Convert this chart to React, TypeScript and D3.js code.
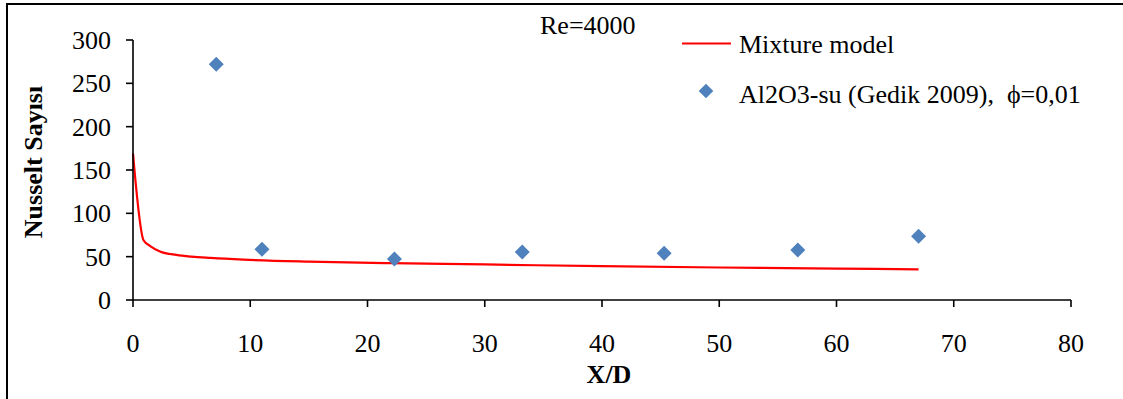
import React from "react";
import * as d3 from "d3";

const xTicks = [0, 10, 20, 30, 40, 50, 60, 70, 80];
const yTicks = [0, 50, 100, 150, 200, 250, 300];

const modelX = [0, 0.9, 1.5, 2.3, 3.7, 5, 6.6, 9.4, 15, 22, 30, 40, 50, 60, 67];
const modelY = [169, 69, 62, 56, 52, 50, 48.5, 46.5, 44.2, 42.5, 41, 39, 37.5, 36.2, 35.4];

const expX = [7.1, 11.0, 22.3, 33.2, 45.3, 56.7, 67.0];
const expY = [272, 58.5, 47.3, 55.4, 54.0, 57.7, 73.5];

const title = "Re=4000";
const legendModel = "Mixture model";
const legendExp = "Al2O3-su (Gedik 2009),  ϕ=0,01";
const xTitle = "X/D";
const yTitle = "Nusselt Sayısı";

const W = 1123;
const H = 399;
const FONT = "Liberation Serif, Times New Roman, serif";

export default function App() {
  const x = d3.scaleLinear().domain([0, 80]).range([133, 1071]);
  const y = d3.scaleLinear().domain([0, 300]).range([300, 40]);

  const line = d3
    .line<number>()
    .x((_, i) => x(modelX[i]))
    .y((d) => y(d))
    .curve(d3.curveMonotoneX);

  const diamond = (cx: number, cy: number, r: number) =>
    `M${cx},${cy - r}L${cx + r},${cy}L${cx},${cy + r}L${cx - r},${cy}Z`;

  const ts = { fontFamily: FONT };

  return (
    <svg
      width={W}
      height={H}
      style={{ position: "absolute", left: 0, top: 0, background: "#fff" }}
    >
      <rect x={7} y={4} width={1200} height={500} fill="#fff" stroke="#000" strokeWidth={2} />

      {/* model line */}
      <path d={line(modelY) || ""} fill="none" stroke="#ff0000" strokeWidth={2.2} />

      {/* experimental points */}
      {expX.map((v, i) => (
        <path key={i} d={diamond(x(v), y(expY[i]), 7.5)} fill="#4f81bd" />
      ))}

      {/* axes */}
      <line x1={x(0)} x2={x(80)} y1={y(0)} y2={y(0)} stroke="#000" strokeWidth={1.6} />
      <line x1={x(0)} x2={x(0)} y1={y(0)} y2={y(300)} stroke="#000" strokeWidth={1.6} />
      {xTicks.map((t) => (
        <g key={"x" + t}>
          <line x1={x(t)} x2={x(t)} y1={y(0)} y2={y(0) + 7} stroke="#000" strokeWidth={1.6} />
          <text x={x(t)} y={352} textAnchor="middle" fontSize={26} style={ts}>
            {t}
          </text>
        </g>
      ))}
      {yTicks.map((t) => (
        <g key={"y" + t}>
          <line x1={x(0) - 7} x2={x(0)} y1={y(t)} y2={y(t)} stroke="#000" strokeWidth={1.6} />
          <text x={111} y={y(t)} dy="0.34em" textAnchor="end" fontSize={26} style={ts}>
            {t}
          </text>
        </g>
      ))}

      {/* axis titles */}
      <text x={609} y={383} textAnchor="middle" fontSize={26} fontWeight="bold" style={ts}>
        {xTitle}
      </text>
      <text
        transform={`translate(42,162) rotate(-90)`}
        textAnchor="middle"
        fontSize={26}
        fontWeight="bold"
        style={ts}
      >
        {yTitle}
      </text>

      {/* title */}
      <text x={540} y={34} fontSize={26} style={ts}>
        {title}
      </text>

      {/* legend */}
      <line x1={682} x2={731} y1={43.5} y2={43.5} stroke="#ff0000" strokeWidth={2.2} />
      <text x={739} y={53} fontSize={26} style={ts}>
        {legendModel}
      </text>
      <path d={diamond(706, 91, 7.3)} fill="#4f81bd" />
      <text x={739} y={103} fontSize={26} style={{ ...ts, whiteSpace: "pre" }}>
        {legendExp}
      </text>
    </svg>
  );
}
